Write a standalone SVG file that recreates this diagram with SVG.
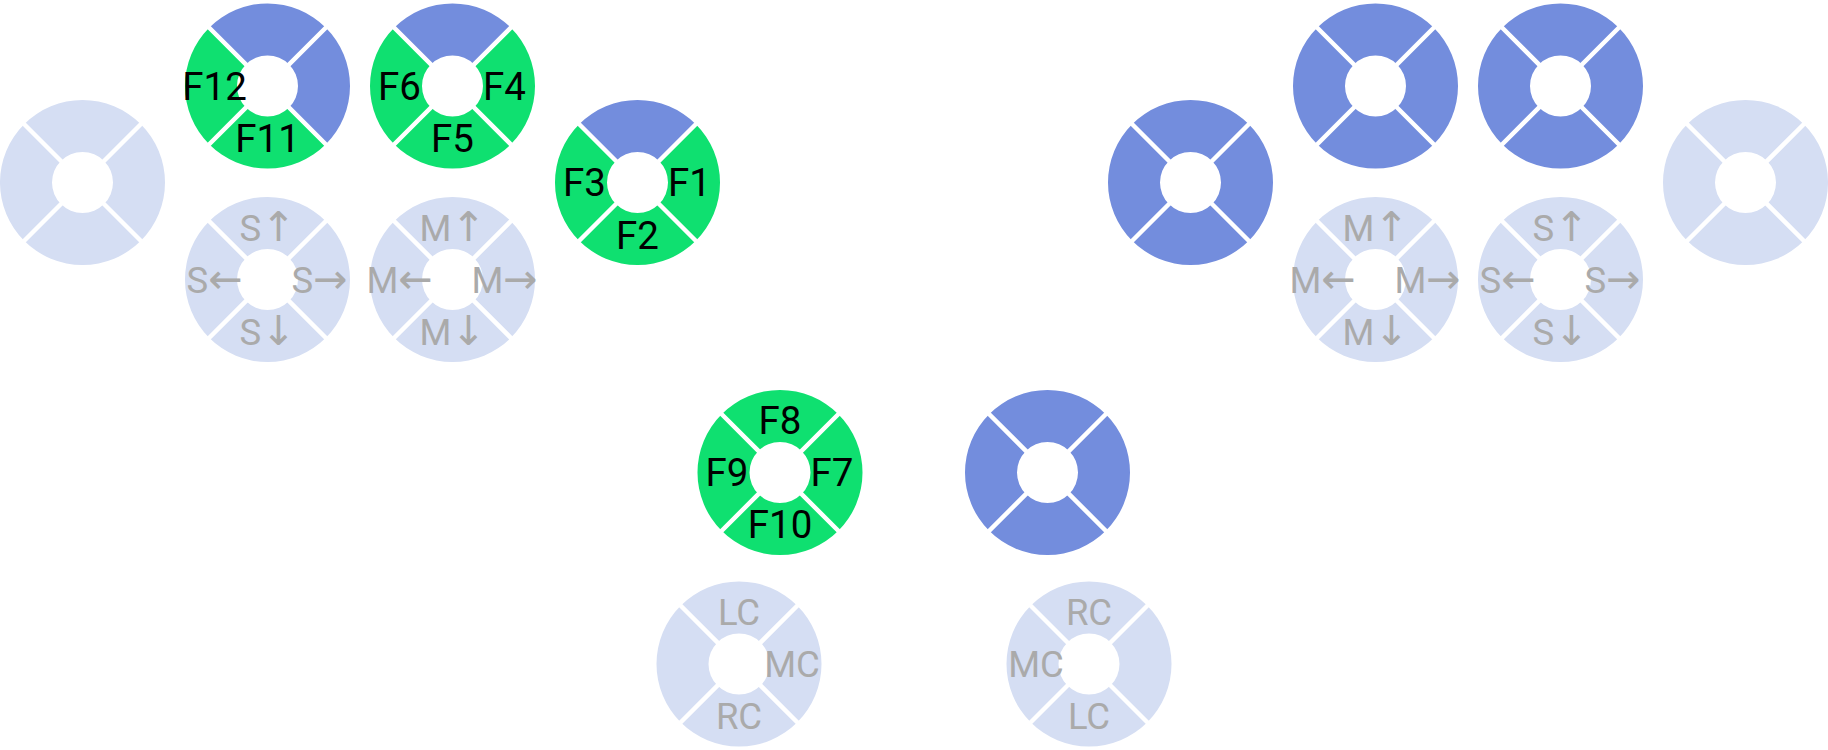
<svg xmlns="http://www.w3.org/2000/svg" width="1828" height="750" viewBox="0 0 1828 750">
<style>
.b{fill:#738ddd}
.g{fill:#0fe070}
.f{fill:#d5def3}
text{font-family:Roboto,"DejaVu Sans",sans-serif;font-size:38.5px;text-anchor:middle}
.k{fill:#000}
.t{fill:#aaaaaa;font-size:36.5px}
.a{font-family:"DejaVu Sans",sans-serif;font-size:41px}
</style>
<defs>
<path id="wN" d="M-58.34,-58.34 A82.5,82.5 0 0 1 58.34,-58.34 L21.57,-21.57 A30.5,30.5 0 0 0 -21.57,-21.57 Z"/>
<path id="wE" d="M58.34,-58.34 A82.5,82.5 0 0 1 58.34,58.34 L21.57,21.57 A30.5,30.5 0 0 0 21.57,-21.57 Z"/>
<path id="wS" d="M58.34,58.34 A82.5,82.5 0 0 1 -58.34,58.34 L-21.57,21.57 A30.5,30.5 0 0 0 21.57,21.57 Z"/>
<path id="wW" d="M-58.34,58.34 A82.5,82.5 0 0 1 -58.34,-58.34 L-21.57,-21.57 A30.5,30.5 0 0 0 -21.57,21.57 Z"/>
<path id="gap" d="M-62,-62L62,62M-62,62L62,-62" stroke="#ffffff" stroke-width="4.5" fill="none"/>
</defs>
<rect width="1828" height="750" fill="#ffffff"/>
<g id="connectors"/>

<g id="left-outer" transform="translate(82.5,182.5)">
<use href="#wN" class="f"/><use href="#wE" class="f"/><use href="#wS" class="f"/><use href="#wW" class="f"/><use href="#gap"/>
</g>

<g id="left-f12" transform="translate(267.5,86)">
<use href="#wN" class="b"/><use href="#wE" class="b"/><use href="#wS" class="g"/><use href="#wW" class="g"/><use href="#gap"/>
<text class="k" x="0" y="66">F11</text>
<text class="k" x="-53" y="13.5">F12</text>
</g>

<g id="left-f6" transform="translate(452.5,86)">
<use href="#wN" class="b"/><use href="#wE" class="g"/><use href="#wS" class="g"/><use href="#wW" class="g"/><use href="#gap"/>
<text class="k" x="52" y="13.5">F4</text>
<text class="k" x="0" y="66">F5</text>
<text class="k" x="-53" y="13.5">F6</text>
</g>

<g id="left-f3" transform="translate(637.5,182.5)">
<use href="#wN" class="b"/><use href="#wE" class="g"/><use href="#wS" class="g"/><use href="#wW" class="g"/><use href="#gap"/>
<text class="k" x="52" y="13.5">F1</text>
<text class="k" x="0" y="66">F2</text>
<text class="k" x="-53" y="13.5">F3</text>
</g>

<g id="left-scroll" transform="translate(267.5,279.5)">
<use href="#wN" class="f"/><use href="#wE" class="f"/><use href="#wS" class="f"/><use href="#wW" class="f"/><use href="#gap"/>
<text class="t" x="0" y="-39">S<tspan class="a">↑</tspan></text>
<text class="t" x="52" y="13">S<tspan class="a">→</tspan></text>
<text class="t" x="0" y="65">S<tspan class="a">↓</tspan></text>
<text class="t" x="-53" y="13">S<tspan class="a">←</tspan></text>
</g>

<g id="left-mouse" transform="translate(452.5,279.5)">
<use href="#wN" class="f"/><use href="#wE" class="f"/><use href="#wS" class="f"/><use href="#wW" class="f"/><use href="#gap"/>
<text class="t" x="0" y="-39">M<tspan class="a">↑</tspan></text>
<text class="t" x="52" y="13">M<tspan class="a">→</tspan></text>
<text class="t" x="0" y="65">M<tspan class="a">↓</tspan></text>
<text class="t" x="-53" y="13">M<tspan class="a">←</tspan></text>
</g>

<g id="thumb-left" transform="translate(780,472.5)">
<use href="#wN" class="g"/><use href="#wE" class="g"/><use href="#wS" class="g"/><use href="#wW" class="g"/><use href="#gap"/>
<text class="k" x="0" y="-39">F8</text>
<text class="k" x="52" y="13.5">F7</text>
<text class="k" x="0" y="65">F10</text>
<text class="k" x="-53" y="13.5">F9</text>
</g>

<g id="thumb-right" transform="translate(1047.5,472.5)">
<use href="#wN" class="b"/><use href="#wE" class="b"/><use href="#wS" class="b"/><use href="#wW" class="b"/><use href="#gap"/>
</g>

<g id="click-left" transform="translate(739,664)">
<use href="#wN" class="f"/><use href="#wE" class="f"/><use href="#wS" class="f"/><use href="#wW" class="f"/><use href="#gap"/>
<text class="t" x="0" y="-39">LC</text>
<text class="t" x="53" y="13">MC</text>
<text class="t" x="0" y="65">RC</text>
</g>

<g id="click-right" transform="translate(1089,664)">
<use href="#wN" class="f"/><use href="#wE" class="f"/><use href="#wS" class="f"/><use href="#wW" class="f"/><use href="#gap"/>
<text class="t" x="0" y="-39">RC</text>
<text class="t" x="-53" y="13">MC</text>
<text class="t" x="0" y="65">LC</text>
</g>

<g id="right-inner" transform="translate(1190.5,182.5)">
<use href="#wN" class="b"/><use href="#wE" class="b"/><use href="#wS" class="b"/><use href="#wW" class="b"/><use href="#gap"/>
</g>

<g id="right-top1" transform="translate(1375.5,86)">
<use href="#wN" class="b"/><use href="#wE" class="b"/><use href="#wS" class="b"/><use href="#wW" class="b"/><use href="#gap"/>
</g>

<g id="right-top2" transform="translate(1560.5,86)">
<use href="#wN" class="b"/><use href="#wE" class="b"/><use href="#wS" class="b"/><use href="#wW" class="b"/><use href="#gap"/>
</g>

<g id="right-outer" transform="translate(1745.5,182.5)">
<use href="#wN" class="f"/><use href="#wE" class="f"/><use href="#wS" class="f"/><use href="#wW" class="f"/><use href="#gap"/>
</g>

<g id="right-mouse" transform="translate(1375.5,279.5)">
<use href="#wN" class="f"/><use href="#wE" class="f"/><use href="#wS" class="f"/><use href="#wW" class="f"/><use href="#gap"/>
<text class="t" x="0" y="-39">M<tspan class="a">↑</tspan></text>
<text class="t" x="52" y="13">M<tspan class="a">→</tspan></text>
<text class="t" x="0" y="65">M<tspan class="a">↓</tspan></text>
<text class="t" x="-53" y="13">M<tspan class="a">←</tspan></text>
</g>

<g id="right-scroll" transform="translate(1560.5,279.5)">
<use href="#wN" class="f"/><use href="#wE" class="f"/><use href="#wS" class="f"/><use href="#wW" class="f"/><use href="#gap"/>
<text class="t" x="0" y="-39">S<tspan class="a">↑</tspan></text>
<text class="t" x="52" y="13">S<tspan class="a">→</tspan></text>
<text class="t" x="0" y="65">S<tspan class="a">↓</tspan></text>
<text class="t" x="-53" y="13">S<tspan class="a">←</tspan></text>
</g>
</svg>
